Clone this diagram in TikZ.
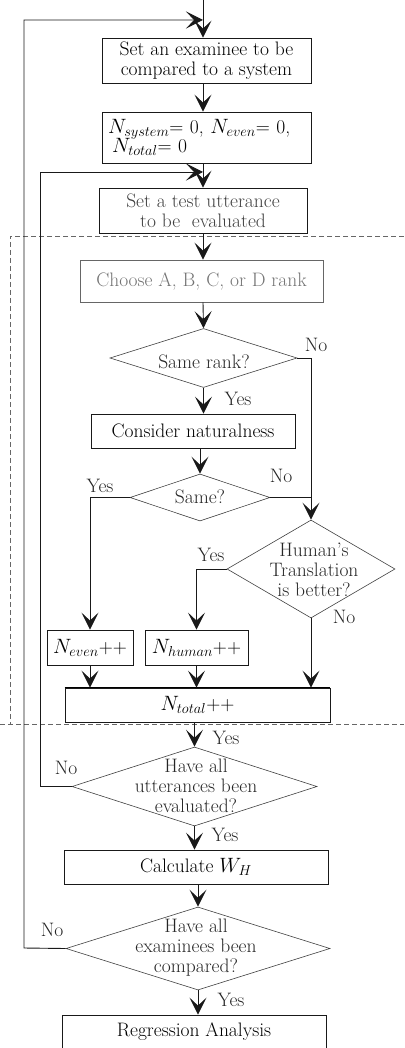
\documentclass[tikz,border=0pt]{standalone}
\usetikzlibrary{arrows.meta,shapes.geometric,calc}
\begin{document}
\begin{tikzpicture}[x=1pt,y=-1pt,
  every node/.style={font=\fontsize{19.5}{20}\selectfont},
  box/.style={draw=black!90,line width=0.8pt,inner sep=0pt,align=center},
  dia/.style={diamond,draw=black!75,line width=0.6pt,inner sep=0pt},
  dtext/.style={align=center,inner sep=0pt,text=black!85},
  arr/.style={-{Stealth[length=17pt,width=17pt,inset=8pt]},line width=0.9pt,draw=black!90},
  ln/.style={line width=0.8pt,draw=black!90},
  lbl/.style={inner sep=0pt,text=black!85}]
\useasboundingbox (0,0) rectangle (404,1048);
% dashed region
\draw[black!60,line width=0.6pt,dash pattern=on 5pt off 3pt] (404,236) -- (10,236) -- (10,724);
\draw[black!60,line width=0.6pt,dash pattern=on 5pt off 3pt] (0,724) -- (404,724);
% boxes
\node[box,minimum width=209pt,minimum height=45pt] (b1) at (206.5,60.5) {Set an examinee to be\\compared to a system};
\node[box,minimum width=209pt,minimum height=51pt,text width=197pt,align=left] (b2) at (206.5,137.5) {$N_{system}$= 0, $N_{even}$= 0,\\[-2pt]\hspace*{4pt}$N_{total}$= 0};
\node[box,minimum width=208pt,minimum height=45pt,text=black!75] (b3) at (203,210.5) {Set a test utterance\\to be\ \ evaluated};
\node[box,draw=black!60,minimum width=243pt,minimum height=42pt,text=black!55] (b4) at (201.5,281) {Choose A, B, C, or D rank};
\node[dia,minimum width=187pt,minimum height=59pt] (d1) at (203.5,358) {};
\node[dtext] (t1) at (204,362) {Same rank?};
\node[box,minimum width=204pt,minimum height=34pt] (b5) at (193,431) {Consider naturalness};
\node[dia,minimum width=140pt,minimum height=47pt] (d2) at (200,497.5) {};
\node[dtext] (t2) at (200,497) {Same?};
\node[dia,minimum width=168pt,minimum height=98pt] (d3) at (311,569) {};
\node[dtext] (t3) at (314,570) {Human's\\Translation\\is better?};
\node[box,minimum width=86pt,minimum height=35pt] (ne) at (90,647.5) {$N_{even}$++};
\node[box,minimum width=103pt,minimum height=35pt] (nh) at (196.5,647.5) {$N_{human}$++};
\node[box,minimum width=265pt,minimum height=34pt] (nt) at (197.5,705) {$N_{total}$++};
\draw[line width=1.6pt] (nt.north west) -- (nt.north east);
\node[dia,minimum width=245pt,minimum height=79pt] (d4) at (194.5,786.5) {};
\node[dtext] (t4) at (196,786) {Have all\\utterances been\\evaluated?};
\node[box,minimum width=264pt,minimum height=34pt] (calc) at (196,867) {Calculate $W_H$};
\node[dia,minimum width=264pt,minimum height=83pt] (d5) at (198,948.5) {};
\node[dtext] (t5) at (196,948) {Have all\\examinees been\\compared?};
\node[box,minimum width=264pt,minimum height=33pt] (reg) at (194,1031.5) {Regression Analysis};
% coordinates
\coordinate (top) at (203,0);
\coordinate (m1) at (203,20);
\coordinate (m2) at (203,172);
\coordinate (o1) at (24,948);
\coordinate (o2) at (24,20);
\coordinate (i1) at (40,786.5);
\coordinate (i2) at (40,172);
\coordinate (r1) at (311,358);
% labels
\node[lbl] (l1) at (316,345) {No};
\node[lbl] (l2) at (238,399) {Yes};
\node[lbl] (l3) at (281,476) {No};
\node[lbl] (l4) at (100,486) {Yes};
\node[lbl] (l5) at (211,555) {Yes};
\node[lbl] (l6) at (344,617) {No};
\node[lbl] (l7) at (226,738) {Yes};
\node[lbl] (l8) at (66,768) {No};
\node[lbl] (l9) at (225,835) {Yes};
\node[lbl] (l10) at (52,930) {No};
\node[lbl] (l11) at (231,1000) {Yes};
% connectors
\draw[arr] (top) -- (b1.north -| top);
\draw[arr] (d5.west) -- (o1) -- (o2) -- (m1);
\draw[arr] (b1.south -| top) -- (b2.north -| top);
\draw[arr] (b2.south -| top) -- (b3.north -| top);
\draw[arr] (d4.west) -- (i1) -- (i2) -- (m2);
\draw[arr] (b3.south -| top) -- (b4.north -| top);
\draw[arr] (b4.south -| top) -- (d1.north);
\draw[arr] (d1.south) -- (b5.north -| d1.south);
\draw[arr] (d1.east) -- (r1) -- (d3.north);
\draw[arr] (b5.south -| d2.north) -- (d2.north);
\draw[ln] (d2.east) -- (d2.east -| d3.north);
\draw[arr] (d2.west) -| (ne.north);
\draw[arr] (d3.west) -| (nh.north);
\draw[arr] (d3.south) -- (nt.north -| d3.south);
\draw[arr] (ne.south) -- (nt.north -| ne.south);
\draw[arr] (nh.south) -- (nt.north -| nh.south);
\draw[arr] (nt.south -| d4.north) -- (d4.north);
\draw[arr] (d4.south) -- (calc.north -| d4.south);
\draw[arr] (calc.south -| d5.north) -- (d5.north);
\draw[arr] (d5.south) -- (reg.north -| d5.south);
\end{tikzpicture}
\end{document}
